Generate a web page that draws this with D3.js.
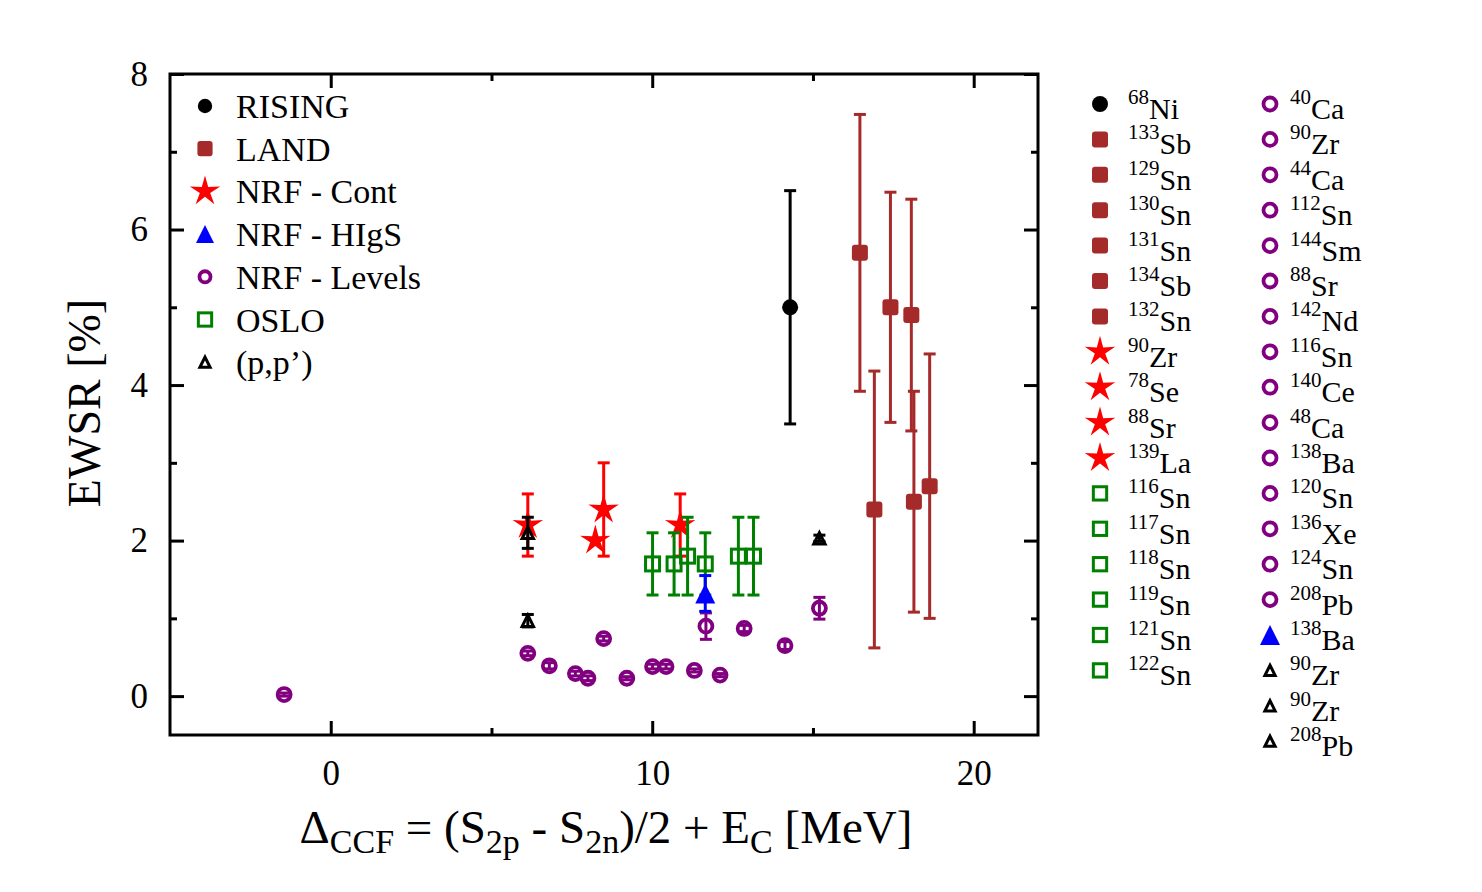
<!DOCTYPE html>
<html>
<head>
<meta charset="utf-8">
<script src="https://cdnjs.cloudflare.com/ajax/libs/d3/7.8.5/d3.min.js"></script>
<style>
body { margin: 0; background: #fff; }
text { font-family: "Liberation Serif", "Times New Roman", serif; }
</style>
</head>
<body>
<div class="content"></div>
<script>
// data: [mass, element], x (MeV), EWSR (%), error
var risingNuc = [["68","Ni"]];
var risingX = [14.29];
var risingY = [5.0];
var risingErr = [1.5];

var landNuc = [["133","Sb"],["129","Sn"],["130","Sn"],["131","Sn"],["134","Sb"],["132","Sn"]];
var landX = [16.46, 16.91, 17.41, 18.06, 18.14, 18.63];
var landY = [5.7, 2.4, 5.0, 4.9, 2.5, 2.7];
var landErr = [1.78, 1.78, 1.48, 1.49, 1.42, 1.7];

var contNuc = [["90","Zr"],["78","Se"],["88","Sr"],["139","La"]];
var contX = [6.13, 8.23, 8.49, 10.87];
var contY = [2.2, 2.0, 2.4, 2.2];
var contErr = [0.4, 0, 0.6, 0.4];

var osloNuc = [["116","Sn"],["117","Sn"],["118","Sn"],["119","Sn"],["121","Sn"],["122","Sn"]];
var osloX = [10.01, 10.68, 11.10, 11.65, 12.68, 13.15];
var osloY = [1.7, 1.7, 1.8, 1.7, 1.8, 1.8];
var osloErr = [0.4, 0.4, 0.5, 0.4, 0.5, 0.5];

var levelNuc = [["40","Ca"],["90","Zr"],["44","Ca"],["112","Sn"],["144","Sm"],["88","Sr"],["142","Nd"],["116","Sn"],
                ["140","Ce"],["48","Ca"],["138","Ba"],["120","Sn"],["136","Xe"],["124","Sn"],["208","Pb"]];
var levelX = [-1.45, 6.13, 6.8, 7.61, 8.0, 8.49, 9.21, 10.01, 10.43, 11.31, 11.67, 12.11, 12.86, 14.13, 15.2];
var levelY = [0.02, 0.55, 0.39, 0.29, 0.23, 0.74, 0.23, 0.38, 0.38, 0.33, 0.90, 0.27, 0.87, 0.65, 1.13];
var levelErr = [0.02, 0.03, 0.04, 0.03, 0.03, 0.03, 0.02, 0.03, 0.03, 0.02, 0.17, 0.02, 0.04, 0.05, 0.14];

var higsNuc = [["138","Ba"]];
var higsX = [11.65];
var higsY = [1.32];
var higsErr = [0.23];

var ppNuc = [["90","Zr"],["90","Zr"],["208","Pb"]];
var ppX = [6.13, 6.13, 15.2];
var ppY = [2.1, 0.97, 2.03];
var ppErr = [0.2, 0.08, 0.04];

var xTicks = [0, 10, 20], xMinor = [5, 15];
var yTicks = [0, 2, 4, 6, 8], yMinor = [1, 3, 5, 7];
var legendLabels = ["RISING", "LAND", "NRF - Cont", "NRF - HIgS", "NRF - Levels", "OSLO", "(p,p\u2019)"];

var width = 1482, height = 892;
var svg = d3.select(".content").append("svg").attr("width", width).attr("height", height);

var x = d3.scaleLinear().domain([-5, 22]).range([170, 1038]);
var y = d3.scaleLinear().domain([-0.5, 8]).range([735, 74]);

var starType = {
  draw: function(ctx, size) {
    var R = Math.sqrt(size), r = R * 0.34;
    for (var i = 0; i < 10; i++) {
      var a = -Math.PI / 2 + i * Math.PI / 5, rr = (i % 2) ? r : R;
      if (i == 0) ctx.moveTo(rr * Math.cos(a), rr * Math.sin(a));
      else ctx.lineTo(rr * Math.cos(a), rr * Math.sin(a));
    }
    ctx.closePath();
  }
};
var triType = {
  draw: function(ctx, size) {
    var h = Math.sqrt(size) / 2;
    ctx.moveTo(0, -h); ctx.lineTo(h, h); ctx.lineTo(-h, h); ctx.closePath();
  }
};

// style for each series
var styles = {
  rising: {color: "#000000", draw: function(g, s){ g.append("circle").attr("r", 8 * s).attr("fill", "#000"); }},
  land: {color: "#a52a2a", draw: function(g, s){ g.append("rect").attr("x", -8 * s).attr("y", -8 * s).attr("width", 16 * s).attr("height", 16 * s).attr("rx", 3).attr("fill", "#a52a2a"); }},
  cont: {color: "#ff0000", draw: function(g, s){ g.append("path").attr("d", d3.symbol().type(starType).size(256 * s * s)).attr("fill", "#ff0000"); }},
  higs: {color: "#0000ff", draw: function(g, s){ g.append("path").attr("d", d3.symbol().type(triType).size(400 * s * s)).attr("fill", "#0000ff"); }},
  levels: {color: "#800080", draw: function(g, s){ g.append("circle").attr("r", 6.5 * s).attr("fill", "none").attr("stroke", "#800080").attr("stroke-width", 3.8); }},
  oslo: {color: "#008000", draw: function(g, s){ g.append("rect").attr("x", -7 * s).attr("y", -7 * s).attr("width", 14 * s).attr("height", 14 * s).attr("fill", "none").attr("stroke", "#008000").attr("stroke-width", 3); }},
  pp: {color: "#000000", draw: function(g, s){ g.append("path").attr("d", d3.symbol().type(triType).size(130 * s * s)).attr("fill", "none").attr("stroke", "#000").attr("stroke-width", 3).attr("stroke-linejoin", "miter"); }}
};

var series = {
  rising: {nuc: risingNuc, x: risingX, y: risingY, err: risingErr},
  land: {nuc: landNuc, x: landX, y: landY, err: landErr},
  cont: {nuc: contNuc, x: contX, y: contY, err: contErr},
  higs: {nuc: higsNuc, x: higsX, y: higsY, err: higsErr},
  levels: {nuc: levelNuc, x: levelX, y: levelY, err: levelErr},
  oslo: {nuc: osloNuc, x: osloX, y: osloY, err: osloErr},
  pp: {nuc: ppNuc, x: ppX, y: ppY, err: ppErr}
};

// axes, ticks pointing inwards on all four sides
function axisStyle(g) {
  g.selectAll("line").attr("stroke", "#000").attr("stroke-width", 3);
  g.select(".domain").remove();
  g.selectAll("text").attr("font-family", "Liberation Serif, serif").attr("font-size", 35).attr("fill", "#000");
}
svg.append("g").attr("transform", "translate(0,735)")
  .call(d3.axisBottom(x).tickValues(xTicks).tickFormat(d3.format("d")).tickSizeInner(-14).tickSizeOuter(0).tickPadding(25)).call(axisStyle);
svg.append("g").attr("transform", "translate(0,735)")
  .call(d3.axisBottom(x).tickValues(xMinor).tickFormat("").tickSizeInner(-7).tickSizeOuter(0)).call(axisStyle);
svg.append("g").attr("transform", "translate(0,74)")
  .call(d3.axisTop(x).tickValues(xTicks).tickFormat("").tickSizeInner(-14).tickSizeOuter(0)).call(axisStyle);
svg.append("g").attr("transform", "translate(0,74)")
  .call(d3.axisTop(x).tickValues(xMinor).tickFormat("").tickSizeInner(-7).tickSizeOuter(0)).call(axisStyle);
svg.append("g").attr("transform", "translate(170,0)")
  .call(d3.axisLeft(y).tickValues(yTicks).tickFormat(d3.format("d")).tickSizeInner(-14).tickSizeOuter(0).tickPadding(22)).call(axisStyle);
svg.append("g").attr("transform", "translate(170,0)")
  .call(d3.axisLeft(y).tickValues(yMinor).tickFormat("").tickSizeInner(-7).tickSizeOuter(0)).call(axisStyle);
svg.append("g").attr("transform", "translate(1038,0)")
  .call(d3.axisRight(y).tickValues(yTicks).tickFormat("").tickSizeInner(-14).tickSizeOuter(0)).call(axisStyle);
svg.append("g").attr("transform", "translate(1038,0)")
  .call(d3.axisRight(y).tickValues(yMinor).tickFormat("").tickSizeInner(-7).tickSizeOuter(0)).call(axisStyle);

svg.append("rect").attr("x", 170).attr("y", 74).attr("width", 868).attr("height", 661)
  .attr("fill", "none").attr("stroke", "#000").attr("stroke-width", 3);

// error bars and markers, drawn in the same stacking order as the figure
["rising", "land", "cont", "oslo", "levels", "higs", "pp"].forEach(function(k) {
  var s = series[k], st = styles[k];
  var g = svg.append("g").attr("class", k);
  s.x.forEach(function(xv, i) {
    var e = s.err[i];
    if (e > 0) {
      var eb = g.append("g").attr("stroke", st.color).attr("stroke-width", 3);
      eb.append("line").attr("x1", x(xv)).attr("x2", x(xv)).attr("y1", y(s.y[i] - e)).attr("y2", y(s.y[i] + e));
      [s.y[i] - e, s.y[i] + e].forEach(function(v) {
        eb.append("line").attr("x1", x(xv) - 6).attr("x2", x(xv) + 6).attr("y1", y(v)).attr("y2", y(v));
      });
    }
  });
  s.x.forEach(function(xv, i) {
    var m = g.append("g").attr("transform", "translate(" + x(xv) + "," + y(s.y[i]) + ")");
    st.draw(m, 1);
  });
});

// inner legend
var legendOrder = ["rising", "land", "cont", "higs", "levels", "oslo", "pp"];
var legendScale = [0.9, 0.95, 1.0, 0.9, 0.85, 0.95, 0.9];
legendOrder.forEach(function(k, i) {
  var yy = 106 + i * 42.7;
  var m = svg.append("g").attr("transform", "translate(205," + yy + ")");
  styles[k].draw(m, legendScale[i]);
  svg.append("text").attr("x", 236).attr("y", yy + 12).attr("font-size", 34).text(legendLabels[i]);
});

// nucleus legend on the right
function nucEntry(k, nuc, col, row) {
  var mx = col == 0 ? 1100 : 1270, tx = col == 0 ? 1128 : 1290;
  var yy = 104 + row * 35.4;
  var m = svg.append("g").attr("transform", "translate(" + mx + "," + yy + ")");
  styles[k].draw(m, k == "oslo" ? 0.95 : (k == "pp" ? 0.9 : 1));
  var t = svg.append("text").attr("x", tx).attr("y", yy + 15);
  t.append("tspan").attr("font-size", 21).attr("dy", -15).text(nuc[0]);
  t.append("tspan").attr("font-size", 30).attr("dy", 15).text(nuc[1]);
}
var row = 0;
["rising", "land", "cont", "oslo"].forEach(function(k) {
  series[k].nuc.forEach(function(n) { nucEntry(k, n, 0, row++); });
});
row = 0;
["levels", "higs", "pp"].forEach(function(k) {
  series[k].nuc.forEach(function(n) { nucEntry(k, n, 1, row++); });
});

// axis titles
svg.append("text").attr("transform", "translate(100,403) rotate(-90)")
  .attr("text-anchor", "middle").attr("font-size", 46).text("EWSR [%]");

var xt = svg.append("text").attr("x", 606).attr("y", 843).attr("text-anchor", "middle").attr("font-size", 47);
var parts = [["\u0394", 0], ["CCF", 1], [" = (S", 0], ["2p", 1], [" - S", 0], ["2n", 1], [")/2 + E", 0], ["C", 1], [" [MeV]", 0]];
var prevSub = 0;
parts.forEach(function(p) {
  var dy = p[1] == prevSub ? 0 : (p[1] ? 10 : -10);
  xt.append("tspan").attr("font-size", p[1] ? 34 : 47).attr("dy", dy).text(p[0]);
  prevSub = p[1];
});
</script>
</body>
</html>
